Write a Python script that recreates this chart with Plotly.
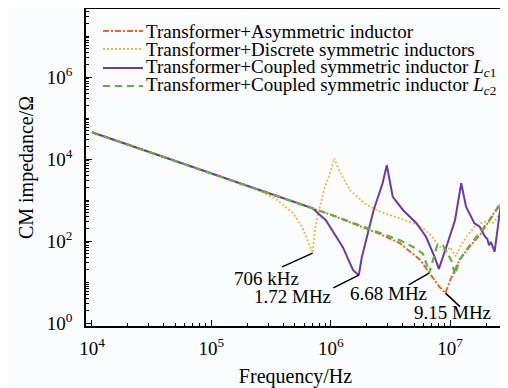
import plotly.graph_objects as go
import math

# ---------------- data ----------------
asym_freq = [1e4, 1e5, 3e5, 1e6, 2.6e6, 3.8e6, 5.6e6, 7.1e6, 8.1e6, 9.15e6, 1.0e7,
             1.2e7, 1.45e7, 1.78e7, 2.14e7, 2.35e7, 2.85e7]
asym_z = [45000, 4500, 1480, 440, 148, 89, 35, 13.5, 7.8, 5.4, 11,
          35, 72, 141, 324, 513, 1000]

disc_freq = [1e4, 1e5, 2.57e5, 3.5e5, 4.85e5, 5.75e5, 6.45e5, 7.06e5, 7.4e5, 7.9e5, 8.9e5,
             1.0e6, 1.07e6, 1.19e6, 1.45e6, 2.0e6, 2.6e6, 3.3e6, 4.9e6, 6.0e6, 7.1e6,
             8.3e6, 9.3e6, 1.0e7, 1.12e7, 1.26e7, 1.41e7, 1.66e7, 2.0e7, 2.3e7, 2.5e7,
             2.75e7, 2.88e7]
disc_z = [45000, 4500, 1660, 1050, 480, 224, 100, 51, 200, 500, 2000,
          5000, 10500, 4900, 1740, 760, 525, 417, 275, 200, 126,
          71, 55, 71, 42, 89, 141, 251, 302, 282, 400,
          562, 630]

lc1_freq = [1e4, 1e5, 7e5, 9.1e5, 1.26e6, 1.54e6, 1.72e6, 1.82e6, 2.04e6, 2.29e6, 2.72e6,
            2.95e6, 3.31e6, 4.03e6, 5.25e6, 6.3e6, 7.4e6, 8.05e6, 9.3e6, 1.1e7, 1.24e7,
            1.36e7, 1.6e7, 1.77e7, 1.95e7, 2.05e7, 2.12e7, 2.2e7, 2.36e7, 2.69e7, 2.88e7]
lc1_z = [45000, 4500, 640, 324, 72, 19.5, 14.8, 40, 158, 575, 2570,
         7080, 1200, 575, 270, 126, 42, 21, 72, 324, 2570,
         690, 270, 224, 132, 112, 79, 95, 55, 1000, 600]

lc2_freq = [1e4, 1e5, 1e6, 2.6e6, 3.8e6, 4.9e6, 5.9e6, 6.3e6, 6.68e6, 7.2e6, 7.8e6,
            8.7e6, 1.02e7, 1.1e7, 1.2e7, 1.41e7, 1.78e7, 2.14e7, 2.44e7, 2.69e7, 2.88e7]
lc2_z = [45000, 4500, 445, 158, 105, 72, 50, 30, 16.6, 35, 79,
         79, 35, 15, 35, 68, 158, 324, 575, 1000, 1100]

series_names = [
    "Transformer+Asymmetric inductor",
    "Transformer+Discrete symmetric inductors",
    "Transformer+Coupled symmetric inductor <i>L</i><sub><i>c</i>1</sub>",
    "Transformer+Coupled symmetric inductor <i>L</i><sub><i>c</i>2</sub>",
]

ann_freq = [7.06e5, 1.72e6, 6.68e6, 9.15e6]
ann_z = [51, 14.8, 16.6, 5.4]
ann_text = ["706 kHz", "1.72 MHz", "6.68 MHz", "9.15 MHz"]

x_tick_vals = [1e4, 1e5, 1e6, 1e7]
x_tick_text = ["10<sup>4</sup>", "10<sup>5</sup>", "10<sup>6</sup>", "10<sup>7</sup>"]
y_tick_vals = [1e0, 1e2, 1e4, 1e6]
y_tick_text = ["10<sup>0</sup>", "10<sup>2</sup>", "10<sup>4</sup>", "10<sup>6</sup>"]

# ---------------- styling ----------------
FONT = "Liberation Serif, Times New Roman, serif"
colors = ["#e4692c", "#f2b640", "#6b3c9c", "#66ad48"]
dashes = ["6px,2px,2px,2px", "2px,2px", "solid", "7px,5px"]
widths = [2, 1.8, 2, 2.2]

fig = go.Figure()
for f, z, c, d, w, n in zip([asym_freq, disc_freq, lc1_freq, lc2_freq],
                            [asym_z, disc_z, lc1_z, lc2_z],
                            colors, dashes, widths, series_names):
    fig.add_trace(go.Scatter(x=f, y=z, mode="lines", name=n,
                             line=dict(color=c, dash=d, width=w),
                             showlegend=False))

x_minor = [k * 10 ** e for e in range(3, 8) for k in range(2, 10)]
y_minor = [k * 10 ** e for e in range(-1, 8) for k in range(1, 10)
           if not (k == 1 and e % 2 == 0)]

axis_common = dict(
    showline=True, linecolor="black", linewidth=1.5, mirror=True,
    showgrid=False, zeroline=False, ticks="inside", ticklen=6,
    tickwidth=1.2, tickcolor="black", automargin=False,
    tickfont=dict(family=FONT, size=19, color="black"),
)

# the page body has an 8px margin, so the figure is made 8px smaller
fig.update_layout(
    width=500, height=380,
    margin=dict(l=78, r=3, t=1, b=62),
    paper_bgcolor="#fbfcfe", plot_bgcolor="#fbfcfe",
    font=dict(family=FONT, color="black"),
    xaxis=dict(type="log", range=[3.95, 7.46],
               tickvals=x_tick_vals, ticktext=x_tick_text,
               ticklabelstandoff=4,
               minor=dict(tickvals=x_minor, ticks="inside", ticklen=3.5,
                          tickcolor="black", tickwidth=1),
               title=dict(text="Frequency/Hz", font=dict(family=FONT, size=20),
                          standoff=12),
               **axis_common),
    yaxis=dict(type="log", range=[-0.07, 7.66],
               tickvals=y_tick_vals, ticktext=y_tick_text,
               ticklabelstandoff=8,
               minor=dict(tickvals=y_minor, ticks="inside", ticklen=3.5,
                          tickcolor="black", tickwidth=1),
               title=dict(text="CM impedance/Ω", font=dict(family=FONT, size=20),
                          standoff=8),
               **axis_common),
    showlegend=False,
)

# ---------------- manual legend ----------------
leg_rows = [31, 49, 68, 86]  # pixel rows in the reference picture
plot_top, plot_h = 9, 317
plot_left, plot_w = 86, 419
for i, (n, c, d, w) in enumerate(zip(series_names, colors, dashes, widths)):
    yp = 1 - (leg_rows[i] - plot_top) / plot_h
    fig.add_shape(type="line", xref="paper", yref="paper",
                  x0=(103 - plot_left) / plot_w, x1=(143 - plot_left) / plot_w,
                  y0=yp, y1=yp, line=dict(color=c, dash=d, width=w))
    fig.add_annotation(xref="paper", yref="paper",
                       x=(144 - plot_left) / plot_w, y=yp,
                       xanchor="left", yanchor="middle", showarrow=False,
                       text=n, font=dict(family=FONT, size=19, color="black"))

# ---------------- point labels ----------------
text_shift = [(-46, -25.5), (-66, -21), (-41, -20), (7, -19.5)]
line_tail = [(-31, 14), (-26, 13), (-21, 12), (15, 14)]   # pixel offsets (right, down)
for f, z, t, (dx, dy), (lx, ly) in zip(ann_freq, ann_z, ann_text, text_shift, line_tail):
    fig.add_annotation(x=math.log10(f), y=math.log10(z), xref="x", yref="y",
                       text=t, showarrow=False, xshift=dx, yshift=dy,
                       font=dict(family=FONT, size=19, color="black"))
    fig.add_annotation(x=math.log10(f), y=math.log10(z), xref="x", yref="y",
                       text=" ", showarrow=True, arrowhead=0, arrowwidth=1.5,
                       arrowcolor="black", ax=lx, ay=ly, standoff=0,
                       font=dict(size=1), borderpad=0)

fig.write_html("out.html")
